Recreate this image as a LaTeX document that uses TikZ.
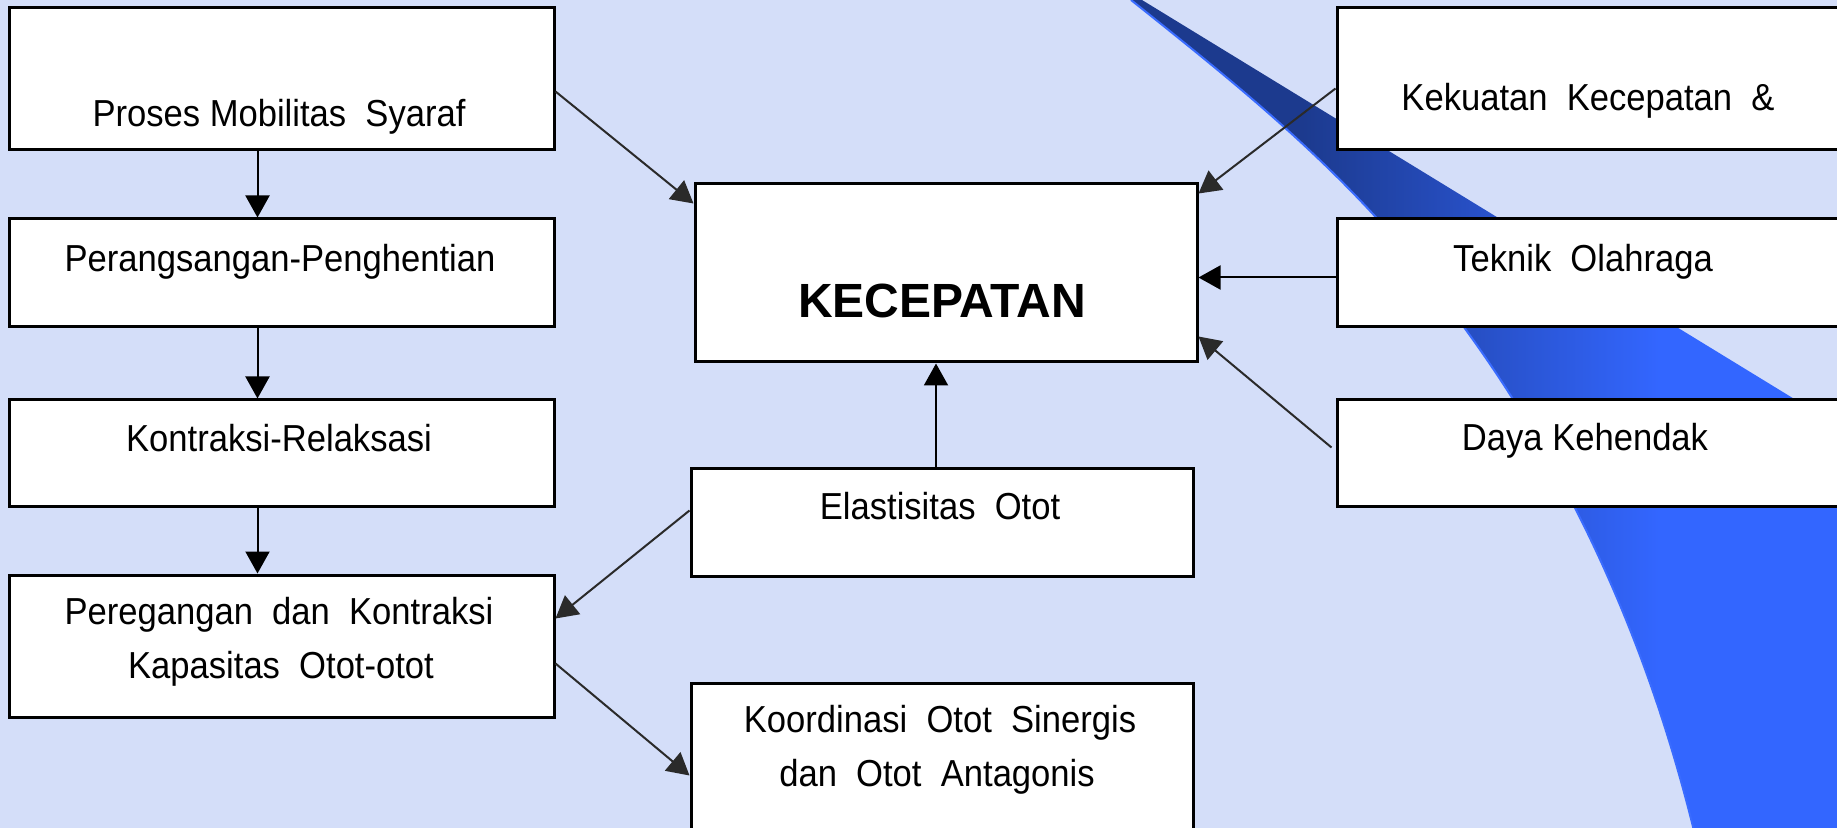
\documentclass[tikz,border=0pt]{standalone}
\usepackage{fontspec}
\setmainfont{Liberation Sans}[FakeStretch=0.92]
\newfontfamily\kecfont{Liberation Sans}
\usetikzlibrary{arrows.meta,calc}
\definecolor{bg}{HTML}{D4DEF9}
\definecolor{navyA}{HTML}{1C3A8E}
\definecolor{brightB}{HTML}{3366FF}
\definecolor{edgeC}{HTML}{3A6CFF}
\definecolor{darkline}{HTML}{2A2A2A}
\pgfdeclarehorizontalshading{swoosh}{100bp}{color(0bp)=(navyA); color(37bp)=(navyA); color(62bp)=(brightB); color(100bp)=(brightB)}
\begin{document}
\begin{tikzpicture}[x=0.5pt,y=-0.5pt,
  box/.style={draw=black, fill=white, line width=1.5pt, inner sep=0pt, rectangle},
  lbl/.style={anchor=base, inner sep=0pt, font=\fontsize{18.8}{27}\selectfont},
  arr/.style={line width=1pt, draw=black, -{Triangle[length=11pt,width=12pt]}},
  darr/.style={arr, draw=darkline}]
\useasboundingbox (0,0) rectangle (1837,828);
\clip (0,0) rectangle (1837,828);
\fill[bg] (0,0) rectangle (1837,828);
% swoosh
\path[shading=swoosh] (1131,0) -- (1142,0) -- (1845,430) -- (1845,835) -- (1695,835)
  .. controls (1650,650) and (1575,480) .. (1466,330)
  .. controls (1370,190) and (1250,95) .. (1131,0) -- cycle;
\draw[edgeC, line width=1pt] (1695,835)
  .. controls (1650,650) and (1575,480) .. (1466,330)
  .. controls (1370,190) and (1250,95) .. (1131,0);
% boxes
\node[box, minimum width=272.5pt, minimum height=71pt] (proses) at (281.5,79) {};
\node[box, minimum width=272.5pt, minimum height=54pt] (perang) at (281.5,273) {};
\node[box, minimum width=272.5pt, minimum height=53.5pt] (kontr) at (281.5,453.5) {};
\node[box, minimum width=272.5pt, minimum height=71pt] (pereg) at (281.5,646) {};
\node[box, minimum width=251pt, minimum height=89pt] (kec) at (946,273) {};
\node[box, minimum width=251pt, minimum height=53.5pt] (elast) at (942,522.5) {};
\node[box, minimum width=251pt, minimum height=108.5pt] (koord) at (942,791.5) {};
\node[box, minimum width=281.5pt, minimum height=71pt] (kekuatan) at (1618.5,79) {};
\node[box, minimum width=281.5pt, minimum height=54pt] (teknik) at (1618.5,273) {};
\node[box, minimum width=281.5pt, minimum height=53.5pt] (daya) at (1618.5,453.5) {};
% texts
\node[lbl] (tproses) at (279,127) {Proses Mobilitas\ \ Syaraf};
\node[lbl] (tperang) at (280,272) {Perangsangan-Penghentian};
\node[lbl] (tkontr) at (279,452) {Kontraksi-Relaksasi};
\node[lbl] (tpereg1) at (279,624) {Peregangan\ \ dan\ \ Kontraksi};
\node[lbl] (tpereg2) at (281,678) {Kapasitas\ \ Otot-otot};
\node[anchor=base, inner sep=0pt, font=\kecfont\bfseries\fontsize{24}{28}\selectfont] (tkec) at (942,318) {KECEPATAN};
\node[lbl] (telast) at (940,520) {Elastisitas\ \ Otot};
\node[lbl] (tkoord1) at (940,732) {Koordinasi\ \ Otot\ \ Sinergis};
\node[lbl] (tkoord2) at (937,786) {dan\ \ Otot\ \ Antagonis};
\node[lbl] (tkek) at (1588,111) {Kekuatan\ \ Kecepatan\ \ \&};
\node[lbl] (ttek) at (1583,272) {Teknik\ \ Olahraga};
\node[lbl] (tdaya) at (1585,451) {Daya Kehendak};
% arrows
\draw[arr] ($(proses.south west)+(250,0)$) -- ($(perang.north west)+(250,0)$);
\draw[arr] ($(perang.south west)+(250,0)$) -- ($(kontr.north west)+(250,0)$);
\draw[arr] ($(kontr.south west)+(250,0)$) -- ($(pereg.north west)+(250,0)$);
\draw[darr] ($(proses.north east)+(0,85)$) -- ($(kec.north west)+(0,21)$);
\draw[darr] ($(kekuatan.north west)+(0,82)$) -- ($(kec.north east)+(0,11)$);
\draw[arr] ($(teknik.north west)+(0,60)$) -- ($(kec.north east)+(0,95)$);
\draw[darr] ($(daya.north west)+(-4,49)$) -- ($(kec.north east)+(0,154)$);
\draw[arr] ($(elast.north)+(-6,0)$) -- ($(kec.south)+(-10,0)$);
\draw[darr] ($(elast.north west)+(0,43)$) -- ($(pereg.north east)+(0,45)$);
\draw[darr] ($(pereg.north east)+(0,90)$) -- ($(koord.north west)+(0,94)$);
\end{tikzpicture}
\end{document}
